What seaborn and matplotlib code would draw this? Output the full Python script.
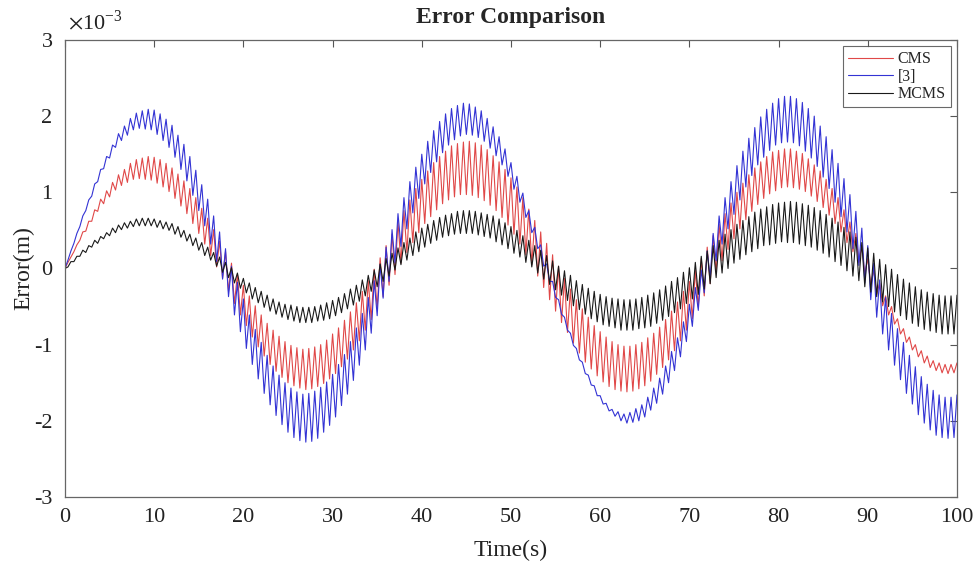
import numpy as np
import seaborn as sns
import matplotlib
matplotlib.use("Agg")
import matplotlib.pyplot as plt
from matplotlib.ticker import FuncFormatter

# sample times (s), one value every 1/3 s
time = np.linspace(0, 100, 301)

# error values, in units of 1e-3 m
cms = [
    0.00, 0.08, 0.15, 0.22, 0.31, 0.37, 0.48, 0.49, 0.62, 0.62, 0.77, 0.75,
    0.91, 0.85, 1.02, 0.94, 1.13, 1.03, 1.23, 1.09, 1.30, 1.13, 1.38, 1.17,
    1.43, 1.18, 1.45, 1.17, 1.47, 1.16, 1.46, 1.12, 1.43, 1.07, 1.38, 1.01,
    1.32, 0.92, 1.24, 0.82, 1.15, 0.72, 1.05, 0.59, 0.93, 0.46, 0.79, 0.32,
    0.66, 0.17, 0.51, 0.02, 0.36, -0.13, 0.22, -0.30, 0.07, -0.46, -0.07, -0.61,
    -0.22, -0.75, -0.36, -0.90, -0.49, -1.03, -0.61, -1.15, -0.72, -1.26, -0.81, -1.35,
    -0.89, -1.43, -0.96, -1.50, -1.01, -1.54, -1.04, -1.57, -1.06, -1.59, -1.05, -1.58,
    -1.03, -1.55, -1.00, -1.51, -0.94, -1.45, -0.86, -1.38, -0.78, -1.29, -0.68, -1.19,
    -0.57, -1.07, -0.45, -0.95, -0.30, -0.81, -0.16, -0.67, -0.01, -0.52, 0.14, -0.37,
    0.30, -0.22, 0.45, -0.08, 0.61, 0.07, 0.76, 0.21, 0.90, 0.34, 1.05, 0.47,
    1.17, 0.59, 1.28, 0.68, 1.39, 0.77, 1.47, 0.85, 1.54, 0.90, 1.61, 0.94,
    1.64, 0.97, 1.66, 0.97, 1.67, 0.96, 1.65, 0.93, 1.62, 0.89, 1.56, 0.83,
    1.48, 0.76, 1.40, 0.67, 1.30, 0.57, 1.19, 0.45, 1.07, 0.32, 0.93, 0.18,
    0.78, 0.05, 0.63, -0.10, 0.48, -0.25, 0.33, -0.41, 0.18, -0.56, 0.03, -0.71,
    -0.13, -0.84, -0.27, -0.98, -0.41, -1.11, -0.53, -1.23, -0.64, -1.32, -0.75, -1.41,
    -0.83, -1.49, -0.90, -1.55, -0.96, -1.59, -1.00, -1.61, -1.02, -1.62, -1.02, -1.61,
    -1.00, -1.58, -0.97, -1.54, -0.91, -1.48, -0.85, -1.39, -0.77, -1.30, -0.67, -1.20,
    -0.56, -1.08, -0.44, -0.95, -0.30, -0.81, -0.17, -0.66, -0.02, -0.51, 0.13, -0.36,
    0.28, -0.20, 0.43, -0.05, 0.58, 0.10, 0.72, 0.25, 0.86, 0.39, 1.00, 0.52,
    1.12, 0.64, 1.23, 0.75, 1.32, 0.84, 1.40, 0.92, 1.47, 0.98, 1.53, 1.02,
    1.55, 1.06, 1.57, 1.07, 1.57, 1.06, 1.54, 1.04, 1.51, 1.01, 1.44, 0.95,
    1.36, 0.88, 1.28, 0.80, 1.17, 0.70, 1.05, 0.59, 0.93, 0.48, 0.77, 0.34,
    0.61, 0.22, 0.46, 0.08, 0.30, -0.07, 0.13, -0.21, -0.02, -0.34, -0.19, -0.49,
    -0.36, -0.61, -0.50, -0.73, -0.66, -0.86, -0.79, -0.97, -0.90, -1.07, -1.00, -1.16,
    -1.08, -1.24, -1.15, -1.30, -1.21, -1.34, -1.24, -1.37, -1.26, -1.38, -1.26, -1.37,
    -1.24,
]

ref3 = [
    0.00, 0.11, 0.23, 0.33, 0.46, 0.55, 0.69, 0.76, 0.90, 0.95, 1.11, 1.14,
    1.30, 1.31, 1.47, 1.45, 1.62, 1.59, 1.77, 1.68, 1.87, 1.75, 1.97, 1.82,
    2.04, 1.84, 2.07, 1.83, 2.09, 1.82, 2.08, 1.76, 2.03, 1.68, 1.96, 1.59,
    1.88, 1.46, 1.75, 1.30, 1.63, 1.15, 1.47, 0.96, 1.29, 0.76, 1.10, 0.56,
    0.91, 0.32, 0.69, 0.09, 0.48, -0.14, 0.26, -0.37, 0.03, -0.61, -0.18, -0.83,
    -0.40, -1.05, -0.61, -1.26, -0.80, -1.45, -0.97, -1.64, -1.14, -1.79, -1.28, -1.93,
    -1.40, -2.05, -1.50, -2.15, -1.57, -2.22, -1.62, -2.26, -1.65, -2.28, -1.64, -2.27,
    -1.61, -2.23, -1.56, -2.15, -1.49, -2.06, -1.39, -1.95, -1.26, -1.80, -1.13, -1.65,
    -0.96, -1.47, -0.78, -1.27, -0.59, -1.07, -0.38, -0.85, -0.16, -0.62, 0.05, -0.39,
    0.28, -0.17, 0.51, 0.07, 0.72, 0.29, 0.93, 0.52, 1.14, 0.73, 1.33, 0.92,
    1.50, 1.11, 1.67, 1.26, 1.81, 1.40, 1.93, 1.52, 2.03, 1.62, 2.10, 1.69,
    2.14, 1.74, 2.17, 1.76, 2.16, 1.75, 2.12, 1.72, 2.07, 1.67, 1.97, 1.58,
    1.86, 1.48, 1.73, 1.36, 1.57, 1.21, 1.39, 1.04, 1.21, 0.87, 0.99, 0.67,
    0.76, 0.47, 0.54, 0.26, 0.31, 0.03, 0.06, -0.17, -0.17, -0.38, -0.41, -0.60,
    -0.64, -0.81, -0.85, -1.01, -1.05, -1.20, -1.23, -1.38, -1.40, -1.53, -1.54, -1.67,
    -1.67, -1.78, -1.77, -1.87, -1.85, -1.94, -1.88, -2.00, -1.91, -2.03, -1.89, -2.02,
    -1.84, -2.00, -1.79, -1.95, -1.69, -1.86, -1.57, -1.77, -1.44, -1.65, -1.28, -1.50,
    -1.09, -1.34, -0.91, -1.16, -0.70, -0.96, -0.47, -0.76, -0.25, -0.55, -0.02, -0.32,
    0.23, -0.12, 0.46, 0.10, 0.69, 0.32, 0.93, 0.52, 1.14, 0.71, 1.35, 0.90,
    1.54, 1.07, 1.71, 1.22, 1.85, 1.36, 1.99, 1.46, 2.09, 1.55, 2.17, 1.62,
    2.23, 1.65, 2.26, 1.66, 2.26, 1.65, 2.23, 1.61, 2.18, 1.54, 2.10, 1.45,
    2.00, 1.34, 1.87, 1.20, 1.73, 1.05, 1.56, 0.87, 1.38, 0.68, 1.18, 0.48,
    0.97, 0.26, 0.75, 0.04, 0.53, -0.19, 0.30, -0.41, 0.07, -0.64, -0.15, -0.86,
    -0.38, -1.07, -0.59, -1.27, -0.79, -1.46, -0.97, -1.64, -1.14, -1.78, -1.29, -1.92,
    -1.42, -2.03, -1.52, -2.12, -1.60, -2.19, -1.66, -2.22, -1.69, -2.23, -1.69, -2.22,
    -1.66,
]

mcms = [
    0.00, 0.02, 0.09, 0.09, 0.16, 0.16, 0.24, 0.21, 0.30, 0.28, 0.37, 0.33,
    0.42, 0.39, 0.47, 0.43, 0.53, 0.47, 0.57, 0.51, 0.60, 0.53, 0.62, 0.55,
    0.65, 0.56, 0.66, 0.56, 0.66, 0.56, 0.65, 0.54, 0.63, 0.52, 0.61, 0.50,
    0.59, 0.45, 0.55, 0.41, 0.50, 0.36, 0.45, 0.30, 0.40, 0.24, 0.34, 0.17,
    0.28, 0.11, 0.21, 0.03, 0.15, -0.05, 0.08, -0.12, 0.01, -0.19, -0.06, -0.26,
    -0.13, -0.32, -0.19, -0.40, -0.25, -0.45, -0.30, -0.51, -0.35, -0.56, -0.40, -0.60,
    -0.44, -0.64, -0.47, -0.67, -0.48, -0.69, -0.50, -0.71, -0.51, -0.71, -0.51, -0.71,
    -0.50, -0.69, -0.48, -0.68, -0.45, -0.66, -0.42, -0.62, -0.38, -0.58, -0.33, -0.53,
    -0.27, -0.48, -0.22, -0.43, -0.15, -0.36, -0.09, -0.30, -0.02, -0.24, 0.06, -0.17,
    0.13, -0.10, 0.20, -0.02, 0.27, 0.05, 0.34, 0.11, 0.40, 0.17, 0.48, 0.22,
    0.53, 0.28, 0.58, 0.33, 0.63, 0.37, 0.67, 0.41, 0.70, 0.43, 0.72, 0.45,
    0.75, 0.46, 0.76, 0.46, 0.76, 0.46, 0.75, 0.44, 0.73, 0.42, 0.71, 0.40,
    0.69, 0.35, 0.65, 0.31, 0.60, 0.26, 0.55, 0.20, 0.50, 0.15, 0.43, 0.08,
    0.37, 0.02, 0.30, -0.06, 0.24, -0.14, 0.17, -0.21, 0.10, -0.28, 0.03, -0.35,
    -0.03, -0.42, -0.09, -0.49, -0.16, -0.54, -0.21, -0.60, -0.26, -0.66, -0.30, -0.70,
    -0.34, -0.74, -0.37, -0.76, -0.39, -0.78, -0.40, -0.81, -0.41, -0.81, -0.41, -0.81,
    -0.40, -0.79, -0.38, -0.78, -0.35, -0.76, -0.32, -0.72, -0.28, -0.68, -0.23, -0.63,
    -0.17, -0.58, -0.12, -0.53, -0.05, -0.46, 0.01, -0.40, 0.08, -0.34, 0.16, -0.27,
    0.23, -0.20, 0.30, -0.12, 0.37, -0.06, 0.45, 0.00, 0.51, 0.07, 0.58, 0.12,
    0.63, 0.18, 0.68, 0.22, 0.74, 0.26, 0.78, 0.30, 0.81, 0.31, 0.84, 0.33,
    0.86, 0.35, 0.87, 0.34, 0.88, 0.34, 0.87, 0.32, 0.85, 0.30, 0.83, 0.28,
    0.80, 0.24, 0.76, 0.20, 0.71, 0.15, 0.66, 0.09, 0.61, 0.04, 0.54, -0.03,
    0.48, -0.10, 0.41, -0.16, 0.34, -0.24, 0.27, -0.31, 0.20, -0.37, 0.12, -0.44,
    0.05, -0.50, -0.01, -0.57, -0.08, -0.62, -0.14, -0.67, -0.19, -0.72, -0.24, -0.76,
    -0.28, -0.80, -0.31, -0.82, -0.33, -0.84, -0.35, -0.86, -0.36, -0.86, -0.36, -0.86,
    -0.35,
]

labels = ["CMS", "[3]", "MCMS"]
colors = ["#e04848", "#3333d4", "#1a1a1a"]

sns.set_theme(style="white")
plt.rcParams["font.family"] = ["Liberation Serif", "DejaVu Serif"]
plt.rcParams["mathtext.fontset"] = "stix"
plt.rcParams["axes.unicode_minus"] = False

fig = plt.figure(figsize=(9.8, 5.67), dpi=100)
ax = fig.add_axes([0.0663, 0.1235, 0.9102, 0.806])

for vals, lab, col in zip([cms, ref3, mcms], labels, colors):
    sns.lineplot(x=time, y=np.array(vals) * 1e-3, color=col, lw=0.8,
                 label=lab, ax=ax, estimator=None)

ax.set_xlim(0, 100)
ax.set_ylim(-3e-3, 3e-3)
ax.set_xticks(np.arange(0, 101, 10))
ax.set_yticks(np.arange(-3, 4) * 1e-3)
ax.yaxis.set_major_formatter(FuncFormatter(lambda v, p: "%d" % round(v * 1e3)))
ax.text(0.003, 1.012, r"$\times$10$^{\mathregular{-3}}$", transform=ax.transAxes,
        fontsize=16, ha="left", va="bottom", color="#222222")

ax.tick_params(direction="in", length=5, width=0.8, color="#555555",
               labelsize=16, top=True, right=True, labelcolor="#222222")
ax.tick_params(axis="x", pad=8)
ax.tick_params(axis="y", pad=9)
for sp in ax.spines.values():
    sp.set_color("#666666")
    sp.set_linewidth(0.9)

ax.set_xlabel("Time(s)", fontsize=17, labelpad=9, color="#222222")
ax.set_ylabel("Error(m)", fontsize=17, labelpad=0, color="#222222")
ax.set_title("Error Comparison", fontsize=17, fontweight="bold", pad=12)

leg = ax.legend(loc="upper right", fontsize=11.5, frameon=True, fancybox=False,
                edgecolor="#444444", handlelength=2.8, handletextpad=0.3,
                borderaxespad=0.4, labelspacing=0.1, borderpad=0.3)
leg.get_frame().set_linewidth(0.8)

fig.savefig("out.png", dpi=100)
